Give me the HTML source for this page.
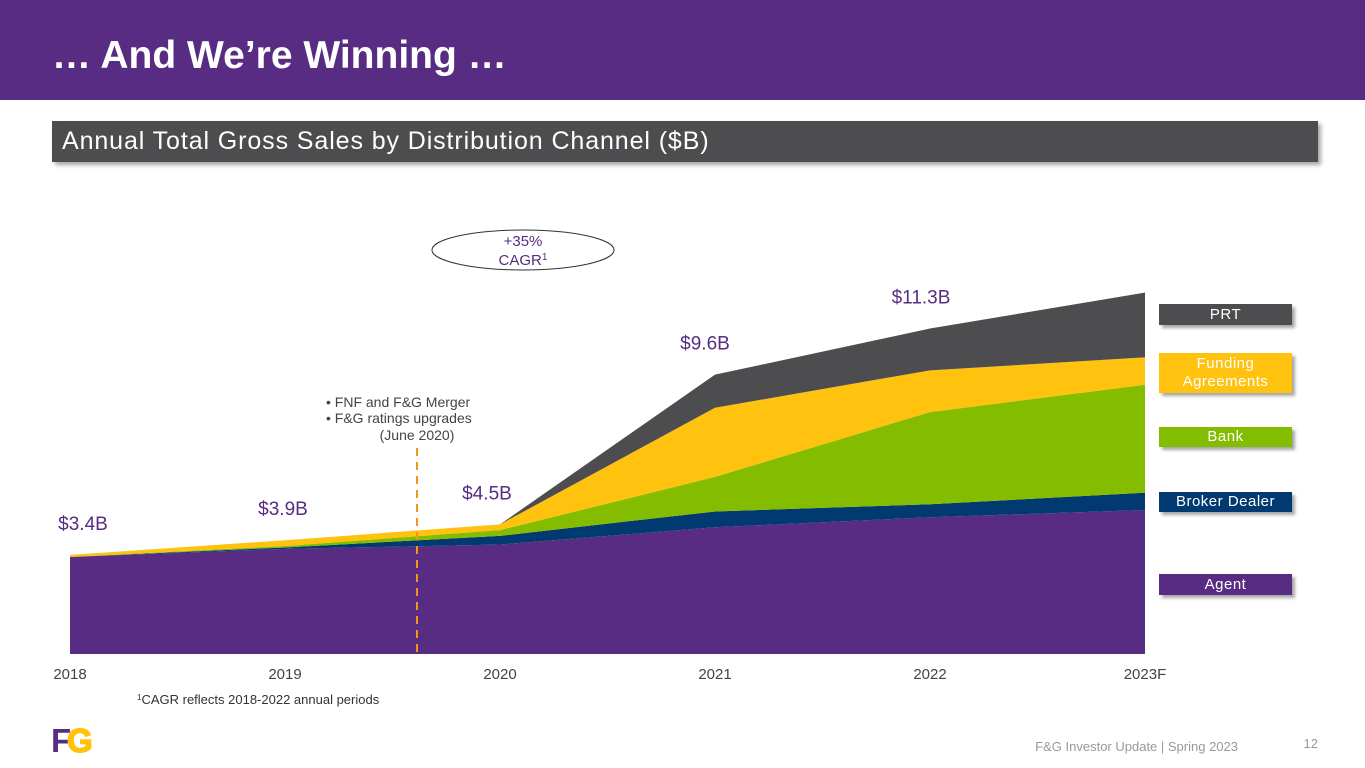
<!DOCTYPE html>
<html><head><meta charset="utf-8">
<style>
body{margin:0;width:1365px;height:768px;overflow:hidden;background:#fff;font-family:"Liberation Sans",sans-serif;position:relative}
.abs{position:absolute}
.leg{position:absolute;left:1159px;width:133px;color:#fff;font-size:15px;text-align:center;box-shadow:3px 3px 3px rgba(0,0,0,0.35);letter-spacing:0.5px;display:flex;align-items:center;justify-content:center;line-height:18px}
</style></head><body>
<div class="abs" style="left:0;top:0;width:1365px;height:100px;background:#582C83"></div>
<div class="abs" style="left:52px;top:34px;color:#fff;font-size:39px;font-weight:bold">… And We’re Winning …</div>
<div class="abs" style="left:52px;top:121px;width:1266px;height:41px;background:#4D4D4F;box-shadow:3px 3px 4px rgba(0,0,0,0.35)"></div>
<div class="abs" style="left:62px;top:127px;color:#fff;font-size:25px;letter-spacing:0.9px">Annual Total Gross Sales by Distribution Channel ($B)</div>

<svg class="abs" style="left:0;top:0" width="1365" height="768">
<g id="areas"></g>
<g id="labels"></g>
<ellipse cx="523" cy="250" rx="91" ry="20" fill="none" stroke="#333" stroke-width="1"/>
<text x="523" y="246" text-anchor="middle" font-size="15" fill="#582C83" font-family="Liberation Sans">+35%</text>
<text x="523" y="265" text-anchor="middle" font-size="15" fill="#582C83" font-family="Liberation Sans">CAGR<tspan font-size="10" dy="-5">1</tspan></text>
<line x1="417" y1="448" x2="417" y2="654" stroke="#F7941D" stroke-width="2" stroke-dasharray="8,6"/>
<g font-size="14" fill="#444" font-family="Liberation Sans">
<text x="326" y="407">•  FNF and F&amp;G Merger</text>
<text x="326" y="423">•  F&amp;G ratings upgrades</text>
<text x="417" y="440" text-anchor="middle">(June 2020)</text>
</g>
<text x="137" y="704" font-size="13" fill="#333" font-family="Liberation Sans"><tspan font-size="8" dy="-4">1</tspan><tspan dy="4">CAGR reflects 2018-2022 annual periods</tspan></text>
<text x="1238" y="751" text-anchor="end" font-size="13" fill="#999" font-family="Liberation Sans">F&amp;G Investor Update | Spring 2023</text>
<text x="1318" y="748" text-anchor="end" font-size="13" fill="#999" font-family="Liberation Sans">12</text>
<g font-family="Liberation Sans" font-weight="bold" font-size="33">
<text x="51" y="752" fill="#582C83" transform="scale(1,1)">F</text><text x="67" y="752" fill="#FFC20E" stroke="#FFC20E" stroke-width="1.5">G</text>
</g>
</svg>

<div class="leg" style="top:304px;height:21px;background:#4D4D4F">PRT</div>
<div class="leg" style="top:353px;height:40px;background:#FFC20E">Funding<br>Agreements</div>
<div class="leg" style="top:427px;height:20px;background:#84BD00">Bank</div>
<div class="leg" style="top:492px;height:20px;background:#003A70">Broker Dealer</div>
<div class="leg" style="top:574px;height:21px;background:#582C83">Agent</div>

<script>
const categories=["2018","2019","2020","2021","2022","2023F"];
const agent=[3.37,3.65,3.8,4.4,4.75,5.0];
const brokerDealer=[0,0.05,0.3,0.55,0.45,0.6];
const bank=[0,0.05,0.2,1.2,3.2,3.75];
const fundingAgreements=[0.07,0.2,0.2,2.4,1.45,0.95];
const prt=[0,0,0,1.15,1.45,2.25];
const totalLabels=["$3.4B","$3.9B","$4.5B","$9.6B","$11.3B",""];
const seriesNames=["agent","broker-dealer","bank","funding-agreements","prt"];
const seriesData=[agent,brokerDealer,bank,fundingAgreements,prt];
const colors=["#582C83","#003A70","#84BD00","#FFC20E","#4D4D4F"];
const labelDx=[13,-2,-13,-10,-9,0];
const ns="http://www.w3.org/2000/svg";
const x=i=>70+i*215;
const y=v=>654-v*28.8;
const g=document.getElementById("areas");
let cum=categories.map(()=>0);
seriesData.forEach((s,k)=>{
  const lower=cum.slice();
  cum=cum.map((c,i)=>c+s[i]);
  let d="M"+categories.map((c,i)=>x(i)+","+y(cum[i])).join(" L");
  for(let i=categories.length-1;i>=0;i--) d+=" L"+x(i)+","+y(lower[i]);
  d+="Z";
  const p=document.createElementNS(ns,"path");
  p.setAttribute("d",d);p.setAttribute("fill",colors[k]);
  
  
  g.appendChild(p);
});
const lg=document.getElementById("labels");
categories.forEach((c,i)=>{
  const t=document.createElementNS(ns,"text");
  t.setAttribute("x",x(i));t.setAttribute("y",679);
  t.setAttribute("text-anchor","middle");t.setAttribute("font-size","15");t.setAttribute("fill","#444");
  t.textContent=c;
  
  
  lg.appendChild(t);
  if(totalLabels[i]){
    const tot=cum[i];
    const l=document.createElementNS(ns,"text");
    l.setAttribute("x",x(i)+labelDx[i]);l.setAttribute("y",y(tot)-25);
    l.setAttribute("text-anchor","middle");l.setAttribute("font-size","19");l.setAttribute("fill","#582C83");
    l.textContent=totalLabels[i];
    
    
    lg.appendChild(l);
  }
});
</script>
</body></html>
